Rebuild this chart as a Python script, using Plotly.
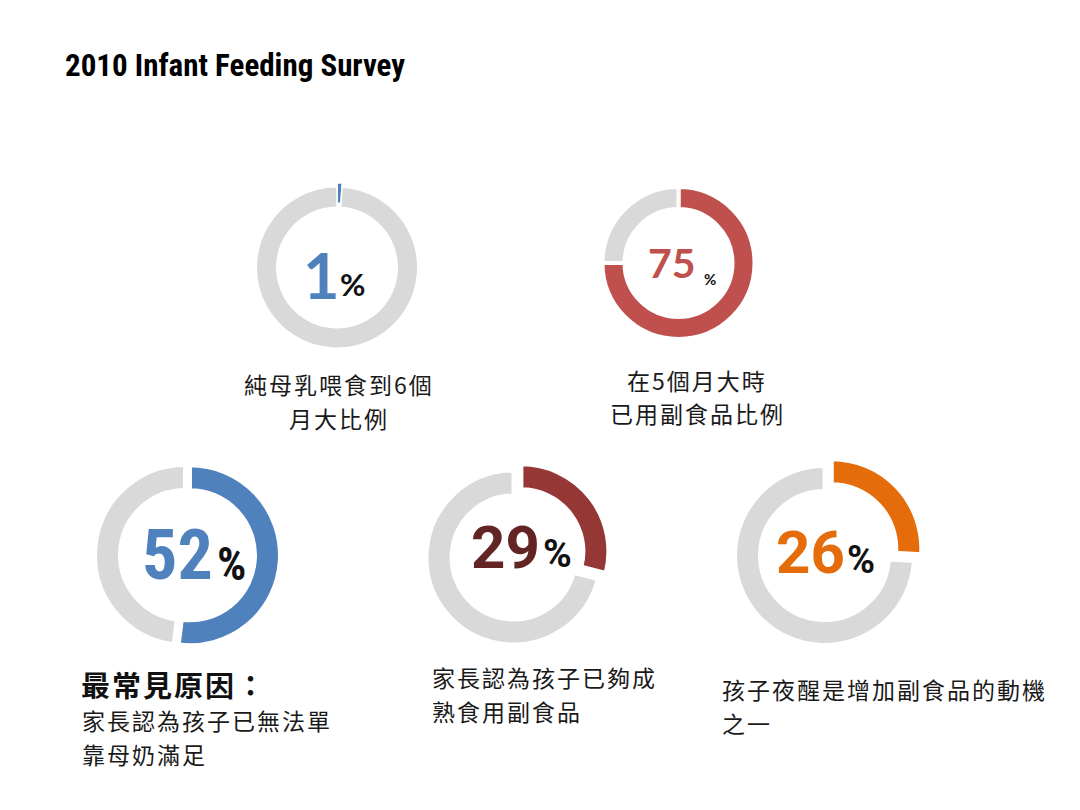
import plotly.graph_objects as go

# data
shares = [1, 75, 52, 29, 26]
captions = [
    ["純母乳喂食到6個", "月大比例"],
    ["在5個月大時", "已用副食品比例"],
    ["家長認為孩子已無法單", "靠母奶滿足"],
    ["家長認為孩子已夠成", "熟食用副食品"],
    ["孩子夜醒是增加副食品的動機", "之一"],
]
lead_caption = "最常見原因："
title_text = "2010 Infant Feeding Survey"

W, H = 1080, 810  # browser window
PAD = 8  # default body margin of the page
GREY = "#D9D9D9"

# ring layout in window pixels: centre, visible outer radius, thickness, pull px, stroke
rings = [
    dict(cx=337, cy=267.5, r=80, t=19, pull=4, lw=1.5, color="#4F81BD", num_color="#4F81BD",
         num_font="Lato, Roboto", num=(321, 274, 63), pct=(352.5, 284, 31)),
    dict(cx=678.5, cy=263, r=74, t=18, pull=0, lw=4, color="#C0504D", num_color="#C0504D",
         num_font="Lato, Roboto", num=(671.5, 263, 41), pct=(710, 279, 15)),
    dict(cx=185, cy=555, r=88, t=21, pull=5, lw=4, color="#4F81BD", num_color="#4F81BD",
         num_font="Roboto Condensed, Roboto", num=(177.5, 555, 70), pct=(231, 564, 46)),
    dict(cx=513.5, cy=557.5, r=85, t=21, pull=10, lw=4, color="#953735", num_color="#632523",
         num_font="Roboto", num=(505, 547, 60), pct=(557, 554, 39)),
    dict(cx=824.5, cy=555.5, r=87.5, t=21, pull=10, lw=4, color="#E46C0A", num_color="#E46C0A",
         num_font="Roboto", num=(810, 552, 60), pct=(860.5, 560, 38)),
]

FW, FH = W - 2 * PAD, H - 2 * PAD
LINE_GAP = 33.5


def fx(px):
    return (px - PAD) / FW


def fy(py):
    return 1 - (py - PAD) / FH


def note(x, y, text, size, family, color="#111", xanchor="center"):
    return dict(
        x=fx(x), y=fy(y), xref="paper", yref="paper", showarrow=False,
        xanchor=xanchor, yanchor="middle", text=text,
        font=dict(family=family, size=size, color=color),
    )


fig = go.Figure()
annotations = []
for share, g in zip(shares, rings):
    lw = g["lw"]
    r_path = g["r"] + lw / 2
    pull = g["pull"] / r_path
    half = r_path * (1 + pull)
    hole = (g["r"] - g["t"] - lw / 2) / r_path
    fig.add_trace(
        go.Pie(
            values=[share, 100 - share],
            sort=False,
            direction="clockwise",
            rotation=0,
            hole=hole,
            pull=[pull, 0],
            marker=dict(colors=[g["color"], GREY], line=dict(color="white", width=lw)),
            textinfo="none",
            hoverinfo="skip",
            showlegend=False,
            domain=dict(
                x=[fx(g["cx"] - half), fx(g["cx"] + half)],
                y=[fy(g["cy"] + half), fy(g["cy"] - half)],
            ),
        )
    )
    nx, ny, ns = g["num"]
    annotations.append(note(nx, ny, f"<b>{share}</b>", ns, g["num_font"], g["num_color"]))
    px_, py_, ps = g["pct"]
    annotations.append(note(px_, py_, "<b>%</b>", ps, g["num_font"], "#111"))

cjk = "Noto Sans CJK TC, Noto Sans CJK SC, sans-serif"
spaced = "<span style='letter-spacing:2px'>{}</span>"
# x, y of first line, anchor
caption_pos = [
    (339, 384, "center"),
    (697, 380, "center"),
    (80, 720, "left"),
    (430, 677, "left"),
    (720, 689, "left"),
]
for lines, (x, y, anchor) in zip(captions, caption_pos):
    for i, line in enumerate(lines):
        annotations.append(
            note(x, y + i * LINE_GAP, spaced.format(line), 23, cjk, "#1a1a1a", xanchor=anchor)
        )

annotations.append(note(79, 684, spaced.format(f"<b>{lead_caption}</b>"), 29, cjk, "#111", xanchor="left"))
annotations.append(
    note(63, 66, f"<b>{title_text}</b>", 31,
         "Roboto Condensed, Liberation Sans Narrow, DejaVu Sans Condensed, Roboto",
         "#000", xanchor="left")
)

fig.update_layout(
    width=FW,
    height=FH,
    margin=dict(l=0, r=0, t=0, b=0),
    paper_bgcolor="white",
    plot_bgcolor="white",
    annotations=annotations,
)
fig.write_html("out.html")
